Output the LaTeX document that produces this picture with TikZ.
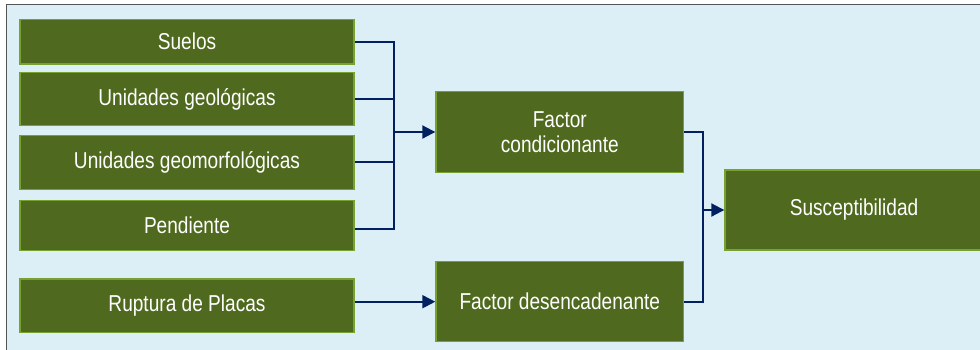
\documentclass[tikz,border=0pt]{standalone}
\usepackage{fontspec}
\newfontfamily\boxfont[FakeStretch=0.83]{Liberation Sans}
\usetikzlibrary{arrows.meta}
\definecolor{bgblue}{HTML}{DDEFF6}
\definecolor{boxfill}{HTML}{4F691E}
\definecolor{boxedge}{HTML}{77A22F}
\definecolor{navy}{HTML}{002060}
\definecolor{frame}{HTML}{555555}
\tikzset{
  gbox/.style={draw=boxedge, fill=boxfill, line width=1.5pt, text=white,
    font=\boxfont\fontsize{23}{24.5}\selectfont, align=center, inner sep=0pt},
  conn/.style={draw=navy, line width=2pt},
  arr/.style={conn, -{Triangle[length=13pt,width=13pt]}}
}
\begin{document}
\begin{tikzpicture}[x=1pt,y=-1pt]
\useasboundingbox (0,0) rectangle (980,349);
\fill[bgblue] (6,4) rectangle (981,350);
\draw[frame, line width=1pt] (6,350) -- (6,4) -- (981,4);

\node[gbox, minimum width=334pt, minimum height=44.7pt] (suelos) at (187,41.7) {Suelos};
\node[gbox, minimum width=334pt, minimum height=53.4pt] (geol) at (187,99) {Unidades geológicas};
\node[gbox, minimum width=334pt, minimum height=54pt] (geom) at (187,162.3) {Unidades geomorfológicas};
\node[gbox, minimum width=334pt, minimum height=49.6pt] (pend) at (187,225.5) {Pendiente};
\node[gbox, minimum width=334pt, minimum height=53.7pt] (rup) at (187,305.8) {Ruptura de Placas};
\node[gbox, minimum width=247.5pt, minimum height=80.6pt] (cond) at (559.8,132) {Factor\\condicionante};
\node[gbox, minimum width=247.5pt, minimum height=80pt] (des) at (559.8,301.7) {Factor desencadenante};
\node[gbox, minimum width=270pt, minimum height=80pt, anchor=west] (sus) at (724.3,210) {\hspace*{-12pt}Susceptibilidad};

\coordinate (bus) at (394.3,132);
\coordinate (bus2) at (703.3,210);

\draw[conn] (suelos.east) -| (bus);
\draw[conn] (geol.east) -| (bus);
\draw[conn] ([yshift=-3pt]pend.east) -| (bus);
\draw[conn] (geom.east) -- (geom.east -| bus);
\draw[arr] (bus) -- (cond.west);

\draw[conn] (cond.east) -| (bus2);
\draw[conn] (des.east) -| (bus2);
\draw[arr] (bus2) -- (sus.west);

\draw[arr] (rup.east |- des.west) -- (des.west);
\end{tikzpicture}
\end{document}
